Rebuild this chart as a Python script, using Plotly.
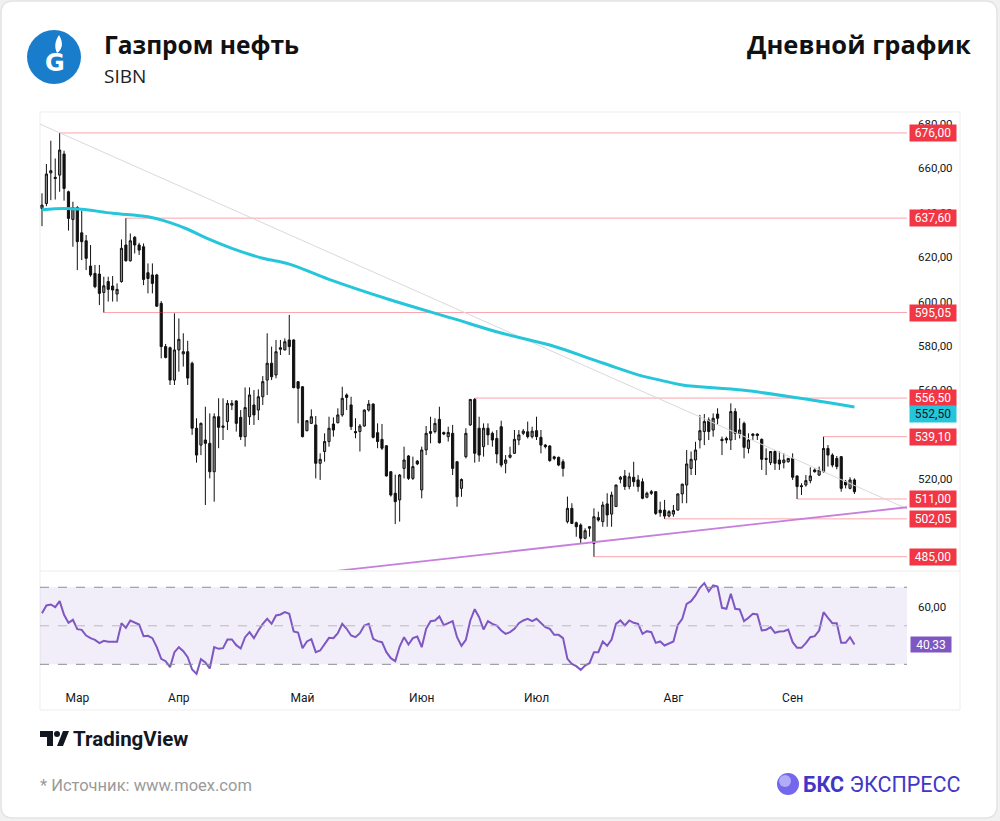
import plotly.graph_objects as go

W, H = 1000, 821
def px(x): return x / W
def py(y): return 1 - y / H

# ---------------- data ----------------
OPEN = [642.0, 644.2, 658.0, 656.0, 657.0, 666.5, 649.5, 637.0, 642.4, 631.0,
        627.4, 616.0, 612.7, 612.4, 604.1, 609.0, 607.0, 603.4, 609.0, 625.5,
        618.4, 629.0, 625.5, 624.7, 613.0, 612.0, 612.0, 599.2, 579.7, 579.2,
        564.6, 578.2, 576.4, 577.4, 572.2, 542.9, 535.3, 537.6, 536.1, 523.3,
        548.1, 543.3, 545.9, 553.3, 555.2, 547.8, 539.1, 548.1, 553.4, 551.1,
        557.1, 564.6, 572.2, 566.9, 579.2, 578.2, 582.7, 582.7, 563.9, 561.6,
        541.8, 545.1, 544.4, 527.1, 532.4, 536.9, 544.8, 545.4, 548.9, 557.9,
        553.4, 541.4, 541.4, 543.9, 551.1, 553.8, 540.9, 537.9, 535.0, 523.3,
        513.6, 510.6, 524.8, 530.4, 520.3, 528.1, 515.1, 533.1, 541.4, 541.4,
        546.9, 541.0, 539.1, 540.6, 527.8, 515.8, 530.1, 544.4, 555.9, 542.9,
        534.6, 542.9, 540.6, 538.3, 543.6, 527.1, 529.8, 531.6, 537.6, 540.6,
        541.3, 539.1, 541.8, 538.8, 535.3, 534.9, 530.0, 529.8, 527.8, 500.8,
        506.8, 500.3, 499.3, 493.3, 497.8, 491.0, 502.6, 500.8, 508.8, 504.2,
        507.6, 519.9, 521.4, 516.6, 520.8, 519.6, 518.8, 511.8, 514.3, 514.3,
        506.0, 506.0, 503.3, 504.2, 506.0, 513.3, 517.3, 524.8, 528.6, 537.6,
        541.4, 546.6, 542.1, 549.3, 537.9, 538.3, 537.6, 550.4, 540.3, 545.1,
        533.8, 539.6, 540.3, 537.9, 529.3, 527.4, 532.4, 528.6, 527.4, 527.8,
        529.3, 521.4, 517.0, 517.3, 519.3, 524.1, 521.8, 523.3, 533.8, 530.8,
        529.3, 530.1, 518.8, 515.8, 519.6]
HIGH = [648.8, 662.0, 672.5, 664.5, 676.0, 668.0, 650.0, 645.0, 643.0, 641.0,
        630.0, 625.5, 616.5, 616.5, 611.2, 611.2, 611.5, 608.2, 628.0, 637.6,
        630.7, 629.5, 626.5, 626.2, 617.2, 617.2, 612.5, 600.2, 580.9, 579.7,
        594.7, 592.4, 585.7, 582.3, 572.9, 547.4, 545.5, 552.6, 549.6, 549.6,
        556.4, 556.4, 555.6, 555.6, 555.6, 551.1, 561.3, 561.3, 560.1, 560.4,
        566.4, 585.7, 579.7, 582.7, 582.7, 583.4, 594.0, 583.0, 564.2, 561.9,
        546.5, 551.4, 548.4, 531.6, 540.6, 548.1, 547.8, 551.9, 561.6, 558.6,
        557.1, 547.4, 544.8, 551.4, 555.6, 554.1, 545.1, 544.8, 535.3, 523.5,
        522.0, 522.3, 534.6, 530.8, 530.1, 528.6, 534.6, 543.9, 548.1, 547.4,
        552.6, 541.4, 543.6, 544.4, 528.0, 520.3, 542.9, 556.0, 556.5, 548.1,
        545.1, 545.1, 541.4, 542.1, 546.3, 530.8, 534.6, 542.1, 542.1, 542.5,
        545.9, 543.6, 548.1, 542.1, 535.8, 535.3, 530.5, 530.1, 528.9, 512.1,
        509.1, 500.8, 500.0, 497.8, 498.8, 506.8, 505.3, 509.8, 513.6, 514.3,
        517.5, 521.4, 524.1, 522.9, 527.8, 521.8, 520.3, 514.3, 515.1, 514.6,
        509.8, 510.6, 506.0, 508.3, 513.5, 517.9, 533.1, 532.4, 536.8, 548.9,
        549.3, 547.8, 549.6, 551.9, 539.1, 539.1, 554.1, 551.9, 547.4, 545.9,
        540.6, 540.6, 540.6, 538.3, 533.8, 532.6, 533.1, 532.4, 531.6, 529.5,
        531.6, 521.6, 518.1, 521.8, 525.3, 524.8, 525.6, 539.1, 535.3, 531.6,
        530.4, 530.4, 519.6, 520.8, 520.3]
LOW = [634.0, 643.0, 645.7, 646.0, 649.5, 645.5, 632.0, 624.7, 614.2, 618.7,
       614.2, 611.2, 606.0, 598.4, 595.05, 600.0, 600.0, 600.0, 608.5, 618.0,
       618.0, 621.7, 621.0, 607.4, 603.7, 603.7, 597.7, 574.4, 574.4, 562.4,
       562.4, 568.4, 570.7, 562.4, 539.9, 527.4, 530.8, 508.3, 520.3, 509.8,
       533.9, 537.6, 542.1, 551.1, 541.4, 537.6, 534.6, 544.4, 544.4, 546.6,
       553.4, 557.9, 564.6, 565.4, 575.9, 578.0, 575.9, 560.9, 545.1, 538.8,
       541.5, 544.8, 520.3, 519.6, 527.8, 534.6, 539.1, 545.1, 548.1, 551.1,
       542.1, 538.4, 532.4, 543.6, 550.4, 538.3, 533.9, 533.1, 521.1, 512.1,
       499.7, 500.8, 520.3, 519.6, 519.6, 526.3, 511.3, 530.8, 536.1, 540.6,
       536.0, 539.8, 536.9, 521.8, 507.5, 512.0, 529.3, 544.0, 527.4, 527.8,
       530.1, 535.3, 534.6, 527.1, 525.3, 522.6, 529.3, 531.3, 535.3, 539.8,
       538.3, 538.3, 537.6, 531.6, 533.8, 527.8, 528.5, 525.8, 521.1, 500.0,
       499.7, 494.0, 491.0, 492.8, 494.0, 485.0, 500.8, 498.5, 498.5, 498.5,
       507.4, 518.1, 515.1, 515.4, 516.6, 514.3, 510.9, 511.3, 512.8, 503.8,
       503.0, 502.05, 502.7, 503.0, 505.8, 509.1, 509.1, 521.8, 521.8, 533.8,
       535.3, 537.6, 539.1, 544.4, 530.8, 536.1, 533.1, 537.6, 538.3, 529.3,
       531.6, 537.6, 537.6, 524.1, 521.8, 526.3, 524.1, 524.1, 524.8, 527.4,
       519.6, 511.0, 512.8, 516.6, 518.1, 522.9, 521.4, 522.9, 525.6, 525.3,
       524.4, 514.3, 515.8, 515.4, 513.3]
CLOSE = [643.5, 657.5, 659.0, 655.5, 668.3, 651.0, 637.5, 642.4, 627.0, 627.0,
         619.5, 612.0, 606.7, 603.7, 607.1, 605.5, 605.2, 605.5, 624.0, 618.4,
         627.4, 625.5, 623.2, 610.0, 610.4, 608.2, 597.9, 579.7, 574.8, 564.6,
         578.2, 583.0, 577.4, 565.5, 542.9, 530.8, 545.1, 536.1, 523.3, 548.1,
         543.3, 543.9, 554.1, 554.1, 545.1, 539.1, 552.2, 557.9, 548.9, 557.1,
         563.9, 572.2, 566.1, 577.4, 578.5, 581.9, 579.7, 561.2, 560.9, 539.1,
         546.3, 548.1, 527.1, 528.9, 536.9, 542.9, 542.1, 548.9, 556.4, 556.8,
         543.6, 540.9, 543.9, 551.1, 553.8, 538.8, 536.9, 533.9, 521.4, 512.8,
         509.8, 521.8, 528.6, 520.3, 525.6, 526.8, 533.1, 540.6, 540.6, 545.1,
         536.4, 540.3, 541.0, 524.8, 512.0, 519.8, 540.6, 555.9, 531.6, 530.8,
         542.9, 539.9, 537.6, 531.3, 526.3, 528.6, 530.8, 537.9, 539.9, 541.6,
         539.1, 541.6, 539.1, 535.3, 534.6, 528.3, 529.3, 526.3, 524.8, 506.8,
         500.0, 498.5, 493.3, 496.7, 498.5, 503.0, 501.5, 508.3, 503.8, 512.8,
         517.3, 520.8, 516.6, 521.0, 518.8, 516.6, 511.3, 513.6, 513.6, 504.5,
         504.8, 503.3, 505.3, 505.8, 513.3, 517.7, 526.8, 528.9, 533.1, 541.8,
         545.9, 541.4, 547.4, 547.4, 537.3, 537.6, 550.4, 540.6, 542.1, 534.3,
         537.6, 540.3, 539.6, 528.9, 528.9, 532.4, 527.1, 526.8, 528.6, 529.3,
         520.8, 516.6, 516.6, 519.3, 521.4, 523.3, 524.1, 533.8, 530.8, 526.3,
         525.6, 515.8, 517.3, 519.6, 514.3]

RSI = [56.57, 60.55, 61.07, 59.68, 62.80, 55.70, 51.55, 53.10, 48.25, 47.91,
       44.96, 43.58, 42.71, 40.98, 42.19, 41.67, 41.67, 41.67, 51.37, 48.95,
       52.76, 51.89, 50.68, 44.62, 44.79, 43.58, 38.90, 32.84, 31.63, 28.51,
       36.30, 38.90, 36.82, 33.71, 27.30, 25.05, 32.67, 30.94, 27.82, 38.90,
       38.04, 38.38, 42.88, 42.88, 39.94, 38.21, 44.10, 46.70, 43.58, 47.56,
       51.02, 53.62, 51.02, 55.35, 55.87, 57.08, 56.22, 47.04, 46.52, 38.38,
       41.85, 43.06, 36.30, 37.17, 40.29, 43.75, 43.58, 46.18, 51.02, 48.43,
       44.96, 44.10, 46.18, 50.16, 51.02, 43.23, 42.02, 41.50, 36.30, 33.19,
       31.63, 39.25, 44.10, 40.29, 43.58, 44.44, 38.90, 48.43, 52.41, 52.76,
       54.83, 50.33, 51.37, 52.41, 44.10, 39.60, 42.71, 52.76, 58.64, 54.49,
       48.08, 52.41, 51.02, 50.16, 47.56, 45.83, 46.70, 48.43, 51.37, 52.76,
       53.62, 52.41, 53.62, 51.37, 49.29, 48.43, 45.31, 45.31, 43.58, 32.84,
       30.25, 29.03, 27.13, 29.38, 30.59, 36.30, 36.30, 41.85, 39.60, 42.88,
       51.02, 52.76, 50.16, 52.76, 51.54, 51.02, 45.83, 47.21, 46.70, 41.15,
       41.85, 39.77, 40.98, 41.85, 50.50, 53.62, 61.41, 62.80, 65.74, 69.73,
       72.15, 67.82, 70.94, 70.42, 59.34, 58.82, 66.61, 58.82, 58.47, 52.41,
       54.14, 56.22, 55.87, 47.56, 47.91, 49.29, 46.35, 47.04, 47.21, 48.08,
       41.50, 38.56, 38.56, 40.98, 44.10, 44.62, 47.56, 57.08, 54.14, 51.37,
       51.37, 41.15, 41.15, 44.10, 40.33]

# moving average read at sparse bars
MA_BAR = [0, 5, 9, 16, 24, 29, 33, 37, 43, 50, 56, 65, 79, 93, 104, 115, 127,
          136, 140, 145, 159, 175, 184]
MA_VAL = [641.4, 642.0, 641.6, 639.8, 638.2, 635.6, 632.6, 628.8, 624.0, 619.5,
          616.9, 610.0, 600.7, 592.4, 585.8, 580.4, 572.3, 566.4, 564.6, 562.4,
          560.0, 555.4, 552.5]

MONTH_TICKS = [8, 31, 59, 86, 112, 143, 170]
MONTH_LABELS = ["Мар", "Апр", "Май", "Июн", "Июл", "Авг", "Сен"]

LEVELS = [676.00, 637.60, 595.05, 556.50, 539.10, 511.00, 502.05, 485.00]
LEVEL_START = [4, 19, 14, 98, 177, 171, 141, 125]

TREND_GRAY_X = [-0.45, 195.9]
TREND_GRAY_Y = [680.0, 506.6]
TREND_PURPLE_X = [60, 195.9]
TREND_PURPLE_Y = [477.1, 507.3]

PRICE_TICKS = [520, 560, 580, 600, 620, 640, 660, 680]
RSI_TICKS = [60]
RSI_BANDS = [30, 50, 70]

X_RANGE = [-0.45, 195.9]
Y_RANGE = [479.0, 685.0]
RSI_RANGE = [20.3, 78.45]

def fmt(v):
    return f"{v:.2f}".replace(".", ",")

BARS = list(range(len(CLOSE)))

# ---------------- figure ----------------
fig = go.Figure()

for lv, st in zip(LEVELS, LEVEL_START):
    fig.add_trace(go.Scatter(x=[st, X_RANGE[1]], y=[lv, lv], mode="lines",
                             line=dict(color="rgba(242,54,69,0.45)", width=1),
                             hoverinfo="skip", showlegend=False))

fig.add_trace(go.Scatter(x=TREND_GRAY_X, y=TREND_GRAY_Y, mode="lines",
                         line=dict(color="#d9d9d9", width=1),
                         hoverinfo="skip", showlegend=False))
fig.add_trace(go.Scatter(x=TREND_PURPLE_X, y=TREND_PURPLE_Y, mode="lines",
                         line=dict(color="#c77fdc", width=1.8),
                         hoverinfo="skip", showlegend=False))

fig.add_trace(go.Scatter(x=MA_BAR, y=MA_VAL, mode="lines",
                         line=dict(color="#26c6da", width=3, shape="spline", smoothing=1.0),
                         hoverinfo="skip", showlegend=False))

fig.add_trace(go.Candlestick(
    x=BARS, open=OPEN, high=HIGH, low=LOW, close=CLOSE,
    increasing=dict(fillcolor="#8a8a8a", line=dict(color="#111111", width=1)),
    decreasing=dict(fillcolor="#111111", line=dict(color="#111111", width=1)),
    whiskerwidth=0, showlegend=False, hoverinfo="skip"))

fig.add_trace(go.Scatter(x=BARS, y=RSI, mode="lines", yaxis="y2",
                         line=dict(color="#7e57c2", width=2),
                         hoverinfo="skip", showlegend=False))

shapes = []
r = 12
x0c, y0c, x1c, y1c = 1, 1, 997, 818
path = (f"M {px(x0c+r)} {py(y0c)} L {px(x1c-r)} {py(y0c)} "
        f"Q {px(x1c)} {py(y0c)} {px(x1c)} {py(y0c+r)} L {px(x1c)} {py(y1c-r)} "
        f"Q {px(x1c)} {py(y1c)} {px(x1c-r)} {py(y1c)} L {px(x0c+r)} {py(y1c)} "
        f"Q {px(x0c)} {py(y1c)} {px(x0c)} {py(y1c-r)} L {px(x0c)} {py(y0c+r)} "
        f"Q {px(x0c)} {py(y0c)} {px(x0c+r)} {py(y0c)} Z")
shapes.append(dict(type="path", xref="paper", yref="paper", path=path,
                   fillcolor="white", line=dict(color="#e4e4e4", width=1.5), layer="below"))
shapes.append(dict(type="rect", xref="paper", yref="paper", x0=px(40), x1=px(960),
                   y0=py(710), y1=py(112), line=dict(color="#ededed", width=1),
                   fillcolor="rgba(0,0,0,0)", layer="below"))
shapes.append(dict(type="line", xref="paper", yref="paper", x0=px(40), x1=px(960),
                   y0=py(571), y1=py(571), line=dict(color="#ececec", width=1)))
shapes.append(dict(type="rect", xref="x domain", yref="y2", x0=0, x1=1,
                   y0=RSI_BANDS[0], y1=RSI_BANDS[2], fillcolor="rgba(126,87,194,0.10)",
                   line=dict(width=0), layer="below"))
for b in RSI_BANDS:
    shapes.append(dict(type="line", xref="x domain", yref="y2", x0=0, x1=1, y0=b, y1=b,
                       line=dict(color="#8a8d96" if b != 50 else "#b8bac0", width=1, dash="dash")))
# Gazprom logo
shapes.append(dict(type="circle", xref="paper", yref="paper", x0=px(27), x1=px(81),
                   y0=py(84), y1=py(30), fillcolor="#1a7dcc", line=dict(width=0)))
flame = (f"M {px(59)} {py(35)} C {px(55)} {py(41)} {px(54)} {py(47)} {px(57)} {py(53)} "
         f"C {px(62)} {py(50)} {px(64)} {py(43)} {px(59)} {py(35)} Z")
shapes.append(dict(type="path", xref="paper", yref="paper", path=flame,
                   fillcolor="white", line=dict(width=0)))
# TradingView logo icon
tv_t = (f"M {px(40)} {py(731)} L {px(53)} {py(731)} L {px(53)} {py(746)} L {px(47)} {py(746)} "
        f"L {px(47)} {py(737)} L {px(40)} {py(737)} Z")
shapes.append(dict(type="path", xref="paper", yref="paper", path=tv_t,
                   fillcolor="#131722", line=dict(width=0)))
shapes.append(dict(type="circle", xref="paper", yref="paper", x0=px(54), x1=px(60),
                   y0=py(737), y1=py(731), fillcolor="#131722", line=dict(width=0)))
tv_s = (f"M {px(57)} {py(746)} L {px(63)} {py(731)} L {px(69)} {py(731)} L {px(63)} {py(746)} Z")
shapes.append(dict(type="path", xref="paper", yref="paper", path=tv_s,
                   fillcolor="#131722", line=dict(width=0)))
# BKS logo circle
shapes.append(dict(type="circle", xref="paper", yref="paper", x0=px(777), x1=px(799),
                   y0=py(795), y1=py(773), fillcolor="#7467ee", line=dict(width=0)))
shapes.append(dict(type="circle", xref="paper", yref="paper", x0=px(779), x1=px(791),
                   y0=py(787), y1=py(775), fillcolor="rgba(255,255,255,0.45)", line=dict(width=0)))

ann = []
for lv in LEVELS:
    ann.append(dict(x=px(933), y=lv, xref="paper", yref="y", text=fmt(lv), showarrow=False,
                    bgcolor="#f23645", font=dict(family="Roboto", size=12, color="white"),
                    width=42, height=12, borderpad=2, xanchor="center", yanchor="middle"))
ann.append(dict(x=px(933), y=MA_VAL[-1], xref="paper", yref="y", yshift=-7, text=fmt(MA_VAL[-1]),
                showarrow=False, bgcolor="#26c6da",
                font=dict(family="Roboto", size=12, color="#131722"),
                width=42, height=12, borderpad=2, xanchor="center", yanchor="middle"))
ann.append(dict(x=px(931), y=RSI[-1], xref="paper", yref="y2", text=fmt(RSI[-1]),
                showarrow=False, bgcolor="#7e57c2",
                font=dict(family="Roboto", size=12, color="white"),
                width=36, height=11, borderpad=2, xanchor="center", yanchor="middle"))
ann.append(dict(x=px(102), y=py(44), xref="paper", yref="paper", text="<b>Газпром нефть</b>",
                showarrow=False, xanchor="left", yanchor="middle",
                font=dict(family="Open Sans", size=24.5, color="#111111")))
ann.append(dict(x=px(102), y=py(76), xref="paper", yref="paper", text="SIBN",
                showarrow=False, xanchor="left", yanchor="middle",
                font=dict(family="Open Sans", size=19, color="#222222")))
ann.append(dict(x=px(973), y=py(44), xref="paper", yref="paper", text="<b>Дневной график</b>",
                showarrow=False, xanchor="right", yanchor="middle",
                font=dict(family="Open Sans", size=25.5, color="#111111")))
ann.append(dict(x=px(55), y=py(63), xref="paper", yref="paper", text="<b>G</b>",
                showarrow=False, xanchor="center", yanchor="middle",
                font=dict(family="DejaVu Sans", size=24, color="white")))
ann.append(dict(x=px(71), y=py(739), xref="paper", yref="paper", text="<b>TradingView</b>",
                showarrow=False, xanchor="left", yanchor="middle",
                font=dict(family="Roboto", size=20.5, color="#131722")))
ann.append(dict(x=px(38), y=py(785), xref="paper", yref="paper", text="* Источник: www.moex.com",
                showarrow=False, xanchor="left", yanchor="middle",
                font=dict(family="Roboto", size=16.5, color="#9a9a9a")))
ann.append(dict(x=px(963), y=py(784), xref="paper", yref="paper",
                text="<b>БКС</b> ЭКСПРЕСС", showarrow=False, xanchor="right", yanchor="middle",
                font=dict(family="Roboto", size=21.5, color="#4136c8")))

fig.update_layout(
    width=W, height=H, autosize=False,
    margin=dict(l=0, r=0, t=0, b=0),
    paper_bgcolor="#f1f1f1", plot_bgcolor="rgba(0,0,0,0)",
    showlegend=False, hovermode=False,
    xaxis=dict(domain=[px(40), px(907)], range=X_RANGE, anchor="y2",
               tickmode="array", tickvals=MONTH_TICKS, ticktext=MONTH_LABELS,
               showgrid=False, zeroline=False, showline=False, ticks="",
               rangeslider=dict(visible=False), ticklabelstandoff=6,
               tickfont=dict(family="Roboto", size=12, color="#131722")),
    yaxis=dict(domain=[py(570), py(113)], range=Y_RANGE, anchor="x", side="right",
               tickmode="array", tickvals=PRICE_TICKS, ticktext=[fmt(v) for v in PRICE_TICKS],
               showgrid=False, zeroline=False, showline=False, ticks="",
               ticklabelstandoff=10,
               tickfont=dict(family="Roboto", size=11.5, color="#131722")),
    yaxis2=dict(domain=[py(683), py(571)], range=RSI_RANGE, anchor="x", side="right",
                tickmode="array", tickvals=RSI_TICKS, ticktext=[fmt(v) for v in RSI_TICKS],
                showgrid=False, zeroline=False, showline=False, ticks="",
                ticklabelstandoff=10,
                tickfont=dict(family="Roboto", size=11.5, color="#131722")),
    shapes=shapes, annotations=ann,
)

fig.write_html("out.html")
